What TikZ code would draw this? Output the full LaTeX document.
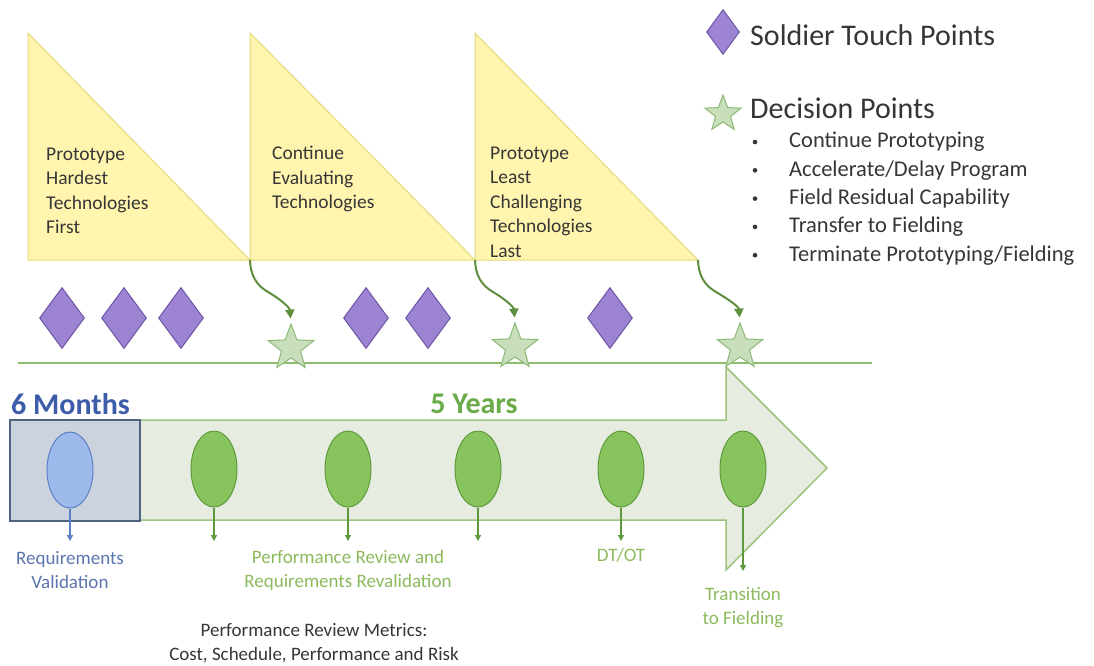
\documentclass[tikz,border=0pt]{standalone}
\usepackage{fontspec}
\setmainfont{Carlito}
\usetikzlibrary{shapes.geometric,arrows.meta}

\definecolor{triFill}{HTML}{FFF5AE}
\definecolor{triEdge}{HTML}{E4D97C}
\definecolor{txtDark}{HTML}{363636}
\definecolor{purpFill}{HTML}{9D84D2}
\definecolor{purpEdge}{HTML}{6E55A6}
\definecolor{starFill}{HTML}{C9DFBB}
\definecolor{starEdge}{HTML}{8DB978}
\definecolor{curveGreen}{HTML}{5E8E3E}
\definecolor{lineGreen}{HTML}{90BC6E}
\definecolor{bodyFill}{HTML}{E6ECE0}
\definecolor{bodyEdge}{HTML}{9CC47E}
\definecolor{boxFill}{HTML}{CBD3DE}
\definecolor{boxEdge}{HTML}{4F6480}
\definecolor{blueTxt}{HTML}{3C5CAA}
\definecolor{blueLbl}{HTML}{5B75AE}
\definecolor{blueFill}{HTML}{9EBAEA}
\definecolor{blueEdge}{HTML}{5B80C6}
\definecolor{greenTxt}{HTML}{6AAA48}
\definecolor{greenLbl}{HTML}{8CBA5C}
\definecolor{greenFill}{HTML}{88C45E}
\definecolor{greenEdge}{HTML}{5E9A3C}

\begin{document}
\begin{tikzpicture}[x=1pt,y=-1pt,
  tri/.style={fill=triFill,draw=triEdge,line width=1pt,line join=miter},
  tritext/.style={anchor=west,align=left,text=txtDark,inner sep=0pt,
    font=\fontsize{19.5}{24.5}\selectfont},
  touch/.style={diamond,fill=purpFill,draw=purpEdge,line width=1pt,
    minimum width=45pt,minimum height=61pt,inner sep=0pt},
  decision/.style={star,star points=5,star point ratio=2.4,fill=starFill,
    draw=starEdge,line width=1pt,minimum size=48pt,inner sep=0pt},
  curvearrow/.style={draw=curveGreen,line width=2pt,shorten >=4pt,
    -{Triangle[length=9pt,width=9pt]}},
  review/.style={ellipse,fill=greenFill,draw=greenEdge,line width=1pt,
    minimum width=46pt,minimum height=76pt,inner sep=0pt},
  drop/.style={line width=1.3pt,-{Triangle[length=6pt,width=6pt]}},
  lbl/.style={align=center,inner sep=0pt,font=\fontsize{19}{24}\selectfont},
  legend/.style={anchor=west,inner sep=0pt,text=txtDark,
    font=\fontsize{30}{36}\selectfont},
  bullettxt/.style={anchor=west,inner sep=0pt,text=txtDark,
    font=\fontsize{22.5}{28}\selectfont}
]
\useasboundingbox (0,0) rectangle (1094,665);
\fill[white] (0,0) rectangle (1094,665);

% ---- phase triangles ----
\draw[tri] (28,33) -- (28,260) -- (250,260) -- cycle;
\draw[tri] (250,33) -- (250,260) -- (475,260) -- cycle;
\draw[tri] (475,33) -- (475,260) -- (698,260) -- cycle;
\coordinate (c1) at (250,260);
\coordinate (c2) at (475,260);
\coordinate (c3) at (698,260);

\node[tritext] (t1) at (46,191) {Prototype\\Hardest\\Technologies\\First};
\node[tritext] (t2) at (272,179) {Continue\\Evaluating\\Technologies};
\node[tritext] (t3) at (490,202) {Prototype\\Least\\Challenging\\Technologies\\Last};

% ---- soldier touch points ----
\node[touch] (d1) at (62,318) {};
\node[touch] (d2) at (124,318) {};
\node[touch] (d3) at (181,318) {};
\node[touch] (d4) at (366,318) {};
\node[touch] (d5) at (428,318) {};
\node[touch] (d6) at (610,318) {};

% ---- timeline rule ----
\coordinate (rl) at (18,363);
\coordinate (rr) at (872,363);
\draw[lineGreen,line width=2pt] (rl) -- (rr);

% ---- decision points ----
\node[decision] (s1) at (291,348) {};
\node[decision] (s2) at (515,347) {};
\node[decision] (s3) at (740,347) {};

\draw[curvearrow] (c1) to[out=-88,in=150] ++(18,32) to[out=-30,in=95] (s1.north);
\draw[curvearrow] (c2) to[out=-88,in=150] ++(18,32) to[out=-30,in=95] (s2.north);
\draw[curvearrow] (c3) to[out=-88,in=150] ++(18,32) to[out=-30,in=95] (s3.north);

% ---- schedule arrow ----
\draw[fill=bodyFill,draw=bodyEdge,line width=1.5pt,line join=miter]
  (10,420) -- (726,420) -- (726,367) -- (827,468) -- (726,570)
  -- (726,520) -- (10,520) -- cycle;
\draw[fill=boxFill,draw=boxEdge,line width=1.3pt] (10,420) rectangle (140,521);

\node[anchor=west,inner sep=0pt,text=blueTxt,font=\fontsize{30}{36}\bfseries\selectfont]
  (m6) at (11,404) {6 Months};
\node[inner sep=0pt,text=greenTxt,font=\fontsize{30}{36}\bfseries\selectfont]
  (y5) at (474,404) {5 Years};

% ---- reviews ----
\node[ellipse,fill=blueFill,draw=blueEdge,line width=1pt,minimum width=46pt,
  minimum height=76pt,inner sep=0pt] (e0) at (70,470) {};
\node[review] (e1) at (214,469) {};
\node[review] (e2) at (348,469) {};
\node[review] (e3) at (478,469) {};
\node[review] (e4) at (621,469) {};
\node[review] (e5) at (743,469) {};

\coordinate (a0) at (70,541);
\coordinate (a1) at (214,541);
\coordinate (a2) at (348,541);
\coordinate (a3) at (478,541);
\coordinate (a4) at (621,541);
\coordinate (a5) at (743,571);
\draw[drop,draw=blueEdge] (e0.south) -- (a0);
\foreach \i in {1,...,5} {\draw[drop,draw=greenEdge] (e\i.south) -- (a\i);}

\node[lbl,text=blueLbl] (l0) at (70,570) {Requirements\\Validation};
\node[lbl,text=greenLbl] (l2) at (348,570) {Performance Review and\\Requirements Revalidation};
\node[lbl,text=greenLbl] (l4) at (621,555) {DT/OT};
\node[lbl,text=greenLbl] (l5) at (743,608) {Transition\\to Fielding};
\node[lbl,text=txtDark] (lm) at (314,643) {Performance Review Metrics:\\Cost, Schedule, Performance and Risk};

% ---- legend ----
\node[touch,minimum width=33pt,minimum height=45pt] (kd) at (723,32) {};
\node[legend] (kdt) at (750,35) {Soldier Touch Points};
\node[decision,minimum size=38pt] (ks) at (723,114) {};
\node[legend] (kst) at (750,108) {Decision Points};
\foreach \t [count=\k from 0] in {Continue Prototyping,Accelerate/Delay Program,
    Field Residual Capability,Transfer to Fielding,Terminate Prototyping/Fielding} {
  \fill[txtDark] (755,142+28.3*\k) circle (2.3pt) coordinate (b\k);
  \node[bullettxt] (bt\k) at (789,142+28.3*\k) {\t};
}
\end{tikzpicture}
\end{document}
